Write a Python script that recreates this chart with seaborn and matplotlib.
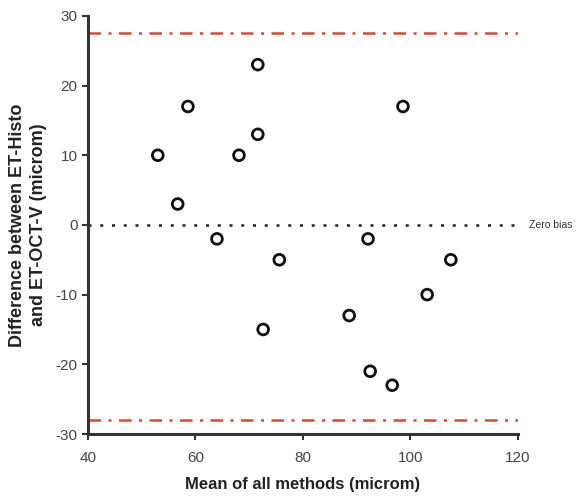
import matplotlib
matplotlib.use("Agg")
import matplotlib.pyplot as plt
import seaborn as sns
import pandas as pd

# Bland-Altman: mean of methods vs difference
mean_vals = [53.0, 56.7, 58.6, 64.0, 68.1, 71.6, 71.6, 75.6, 72.6,
             98.6, 92.1, 107.5, 103.1, 88.6, 92.5, 96.6]
diff_vals = [10, 3, 17, -2, 10, 13, 23, -5, -15,
             17, -2, -5, -10, -13, -21, -23]
upper_loa = 27.5
lower_loa = -28.0
zero_bias = 0

df = pd.DataFrame({"mean": mean_vals, "diff": diff_vals})

sns.set_style("ticks")
plt.rcParams['font.family'] = ['Liberation Sans', 'DejaVu Sans']
plt.rcParams['axes.unicode_minus'] = False

fig = plt.figure(figsize=(5.86, 4.96), dpi=100)
ax = fig.add_axes([0.150, 0.125, 0.734, 0.843])

sns.scatterplot(data=df, x="mean", y="diff", ax=ax, marker="o",
                facecolor="none", edgecolor="#111111", linewidth=2, s=60, zorder=3)

loa_style = (0, (5, 3, 1.2, 3))
ax.axhline(upper_loa, color="#e0452f", lw=1.8, ls=loa_style)
ax.axhline(lower_loa, color="#e0452f", lw=1.8, ls=loa_style)
ax.axhline(zero_bias, color="#222222", lw=1.8, ls=(0, (1.2, 3.5)))
ax.text(122, zero_bias, "Zero bias", fontsize=7.5, va="center", ha="left",
        color="#333333", clip_on=False)

ax.set_xlim(40, 120)
ax.set_ylim(-30, 30)
ax.set_xticks([40, 60, 80, 100, 120])
ax.set_yticks([-30, -20, -10, 0, 10, 20, 30])

sns.despine(ax=ax)
for s in ["left", "bottom"]:
    ax.spines[s].set_linewidth(2.2)
    ax.spines[s].set_color("#333333")
ax.tick_params(axis="both", width=1.5, length=4, labelsize=11,
               colors="#333333", labelcolor="#444444")
ax.tick_params(axis="x", pad=8)

ax.set_xlabel("Mean of all methods (microm)", fontsize=12, fontweight="bold",
              labelpad=9, color="#222222")
ax.set_ylabel("Difference between ET-Histo\nand ET-OCT-V (microm)", fontsize=13,
              fontweight="bold", linespacing=1.35, labelpad=6, color="#222222")

fig.savefig("out.png", dpi=100)
